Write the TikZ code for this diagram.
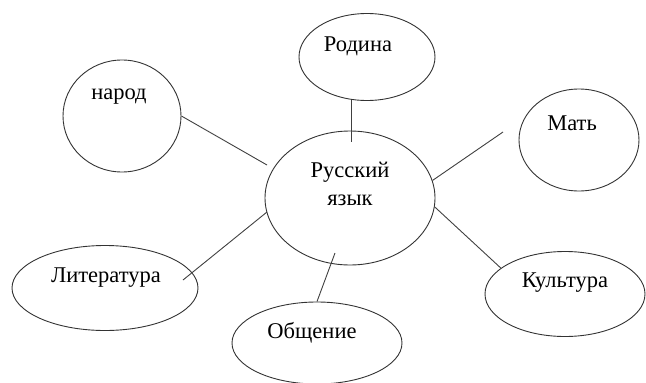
\documentclass[tikz,border=0pt]{standalone}
\usepackage{fontspec}
\setmainfont{Liberation Serif}
\usetikzlibrary{shapes.geometric}

\tikzset{
  bubble/.style={draw=black!80, line width=0.9pt, ellipse, inner sep=0pt},
  word/.style={font=\fontsize{22.5}{28}\selectfont, inner sep=0pt, align=center},
  spoke/.style={draw=black!75, line width=0.9pt}
}

\begin{document}
\begin{tikzpicture}[x=1pt,y=-1pt]
            \useasboundingbox (0,0) rectangle (646,383);
            % ellipses
            \node[bubble, minimum width=170, minimum height=134] (yazyk) at (350,198) {};
            \node[bubble, minimum width=136, minimum height=87] (rodina) at (367,57) {};
            \node[bubble, minimum width=118, minimum height=112] (narod) at (122,116) {};
            \node[bubble, minimum width=120, minimum height=102] (mat) at (579,140) {};
            \node[bubble, minimum width=186, minimum height=85] (lit) at (105,288) {};
            \node[bubble, minimum width=170, minimum height=82] (obsh) at (317,343) {};
            \node[bubble, minimum width=160, minimum height=85] (kult) at (565,294) {};
            % texts
            \node[word] (yazyk-t) at (350,184) {Русский\\язык};
            \node[word] (rodina-t) at (358,46) {Родина};
            \node[word] (narod-t) at (119,97) {народ};
            \node[word] (mat-t) at (572,123) {Мать};
            \node[word] (lit-t) at (106,278) {Литература};
            \node[word] (obsh-t) at (312,333) {Общение};
            \node[word] (kult-t) at (565,283) {Культура};
            % free ends
            \coordinate (c0) at (351,100);
            \coordinate (c1) at (351,142);
            \coordinate (c2) at (267,165);
            \coordinate (c3) at (503,132);
            \coordinate (c4) at (183,280);
            \coordinate (c5) at (335,253);
            \coordinate (c6) at (267,212);
            % spokes
            \draw[spoke] (c0) -- (c1);
            \draw[spoke] (narod.east) -- (c2);
            \draw[spoke] (yazyk.12) -- (c3);
            \draw[spoke] (c6) -- (c4);
            \draw[spoke] (c5) -- (obsh.north);
            \draw[spoke] (yazyk.-6) -- (kult.158);
\end{tikzpicture}
\end{document}
